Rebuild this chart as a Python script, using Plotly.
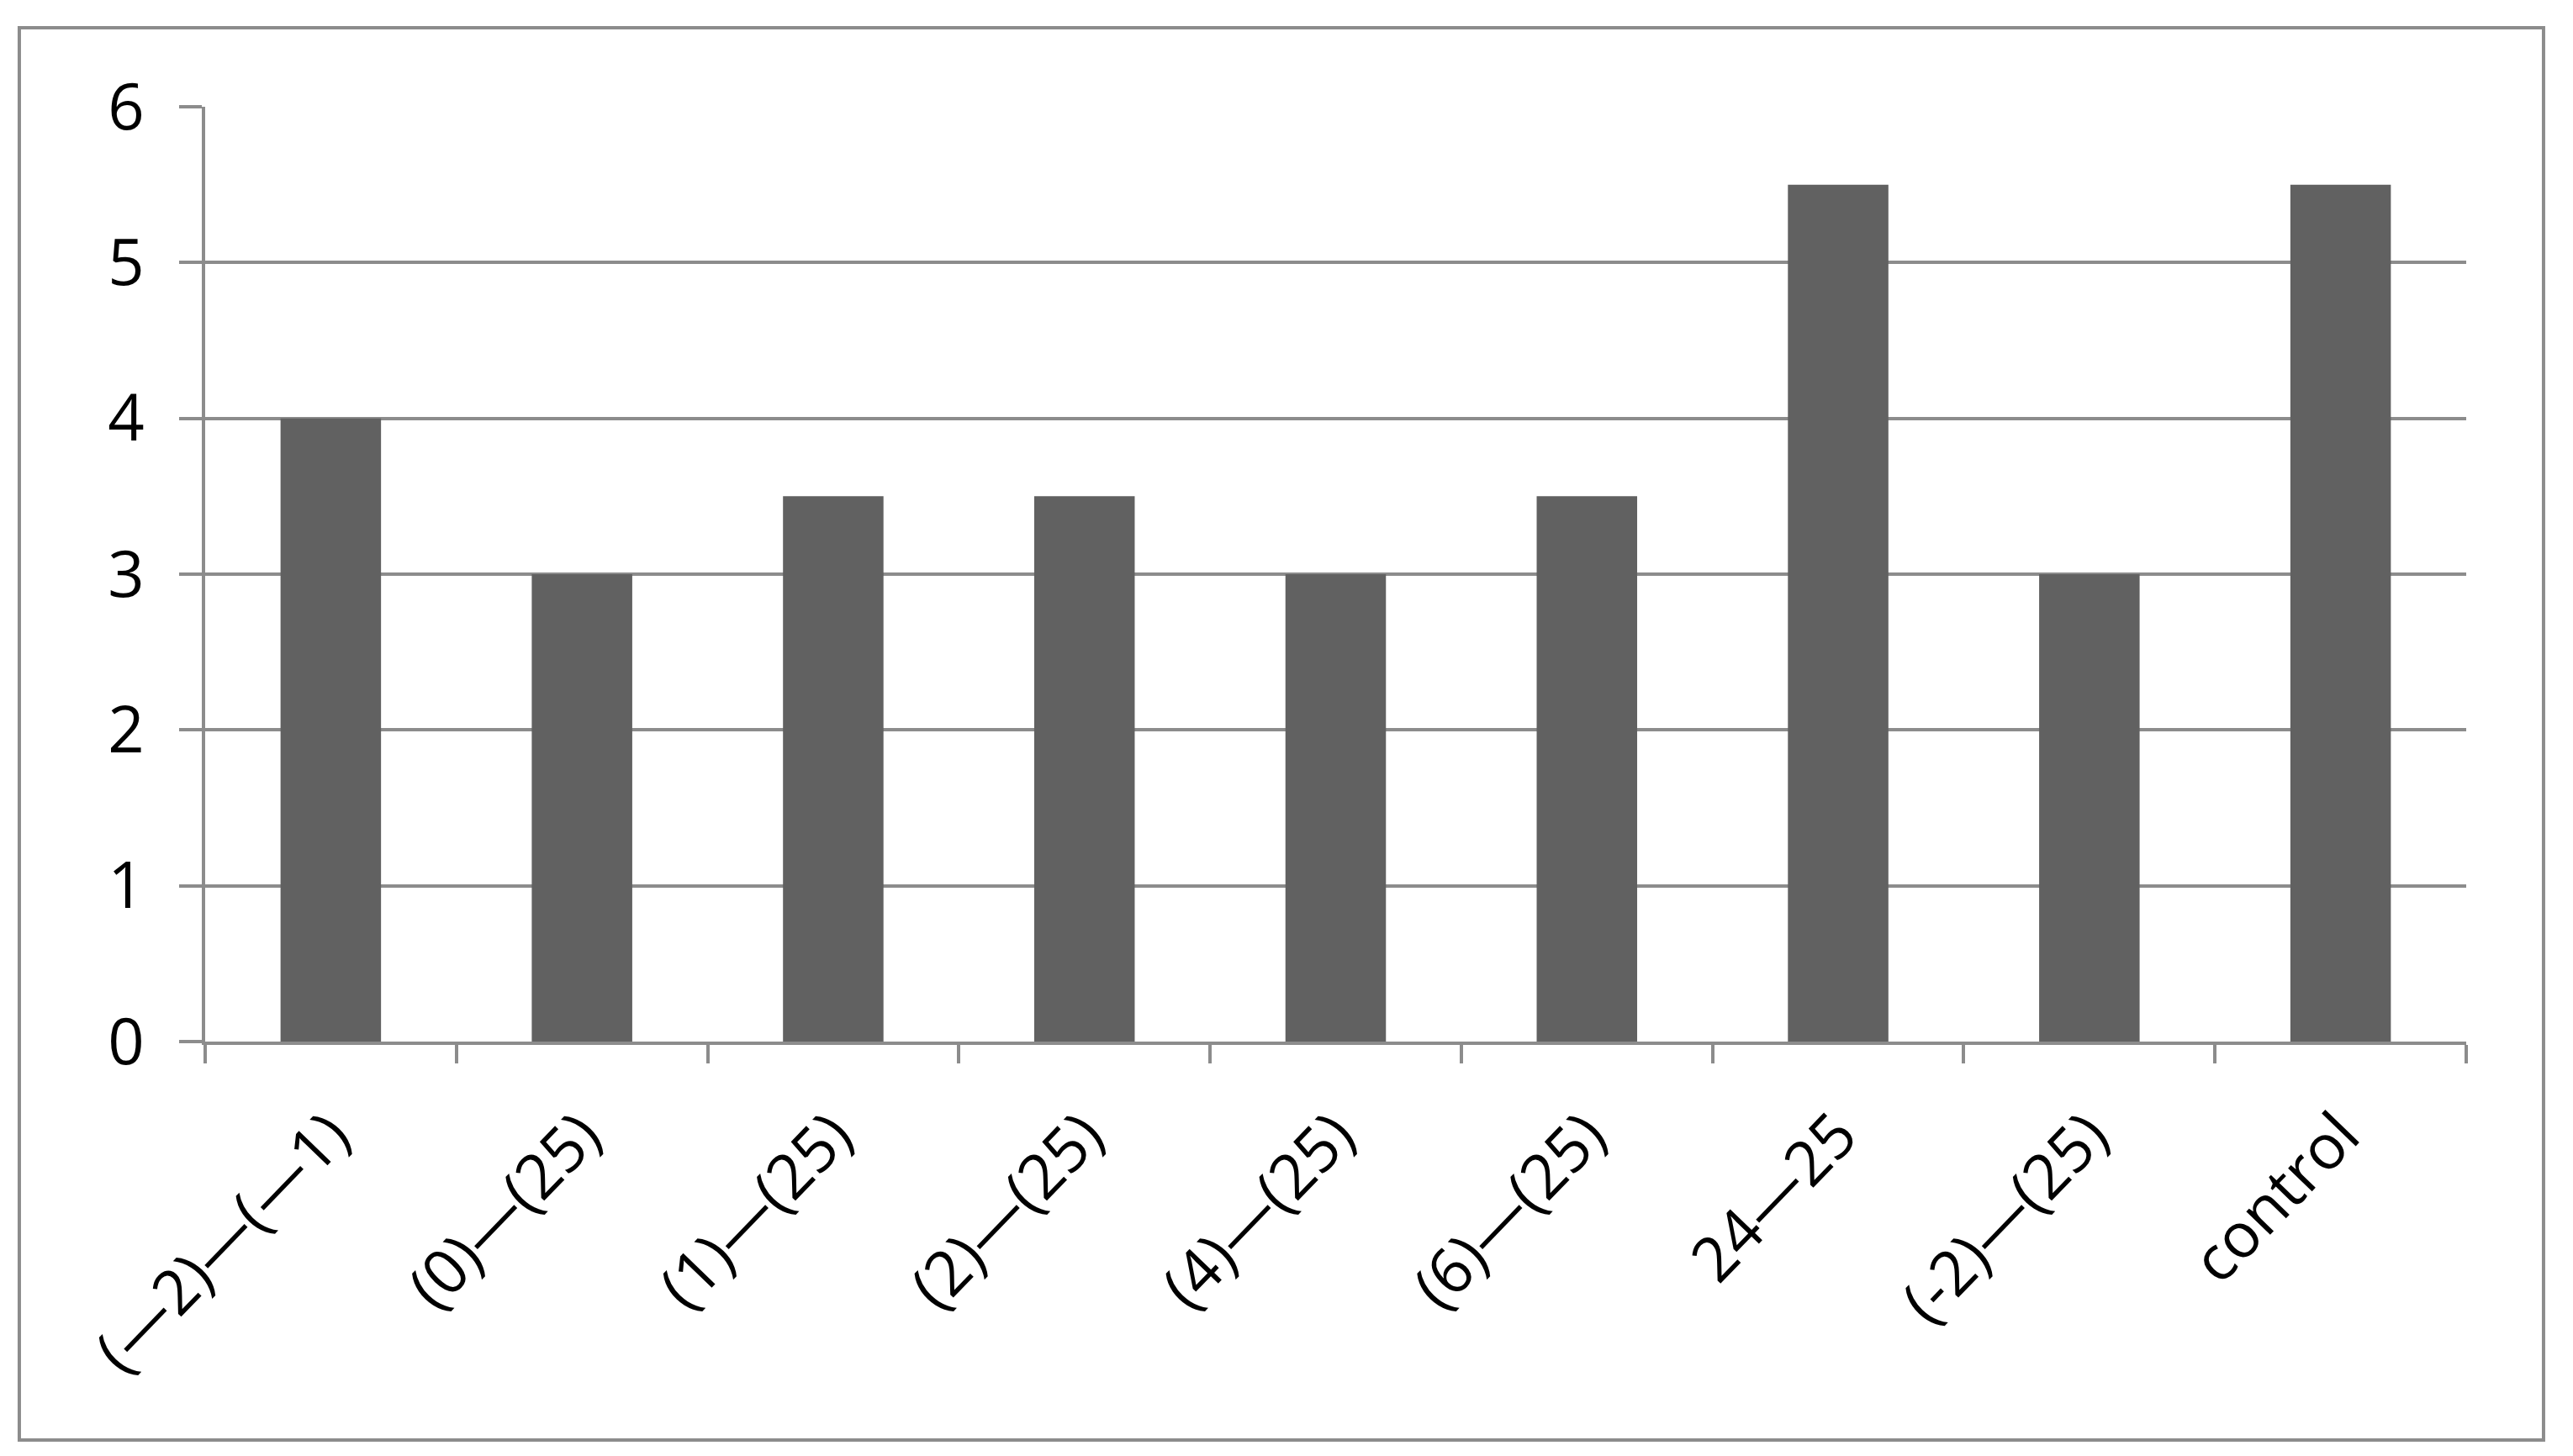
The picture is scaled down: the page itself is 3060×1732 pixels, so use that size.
import plotly.graph_objects as go

# ----------------------
# Data
# ----------------------
categories = [
    "(—2)—(—1)",
    "(0)—(25)",
    "(1)—(25)",
    "(2)—(25)",
    "(4)—(25)",
    "(6)—(25)",
    "24—25",
    "(-2)—(25)",
    "control",
]
values = [4, 3, 3.5, 3.5, 3, 3.5, 5.5, 3, 5.5]
y_ticks = [0, 1, 2, 3, 4, 5, 6]

GRID = "#8c8c8c"
BAR = "#616161"
FONT = "Open Sans, Noto Sans, DejaVu Sans, sans-serif"

fig = go.Figure(
    go.Bar(
        x=categories,
        y=values,
        marker=dict(color=BAR, line=dict(width=0)),
    )
)

# the page body adds an 8px offset, so margins are shifted to compensate
fig.update_layout(
    width=3060,
    height=1732,
    paper_bgcolor="white",
    plot_bgcolor="white",
    font=dict(family=FONT, size=74, color="black"),
    bargap=0.6,
    showlegend=False,
    margin=dict(l=236, r=135, t=119, b=501),
    xaxis=dict(
        type="category",
        showgrid=False,
        showline=True,
        linecolor=GRID,
        linewidth=4,
        ticks="outside",
        tickson="boundaries",
        ticklen=22,
        tickwidth=4,
        tickcolor=GRID,
        tickangle=-46,
        ticklabelstandoff=34,
        tickfont=dict(size=74),
    ),
    yaxis=dict(
        range=[0, 6],
        tickvals=y_ticks,
        showgrid=True,
        gridcolor=GRID,
        gridwidth=4,
        showline=True,
        linecolor=GRID,
        linewidth=4,
        ticks="outside",
        ticklen=27,
        tickwidth=4,
        tickcolor=GRID,
        ticklabelstandoff=26,
        tickfont=dict(size=76),
        zeroline=False,
    ),
    # outer chart border
    shapes=[
        dict(
            type="rect",
            xref="paper",
            yref="paper",
            x0=-0.0822,
            x1=1.0342,
            y0=-0.4263,
            y1=1.0845,
            line=dict(color=GRID, width=4),
            fillcolor="rgba(0,0,0,0)",
            layer="below",
        )
    ],
)

fig.write_html("out.html")
